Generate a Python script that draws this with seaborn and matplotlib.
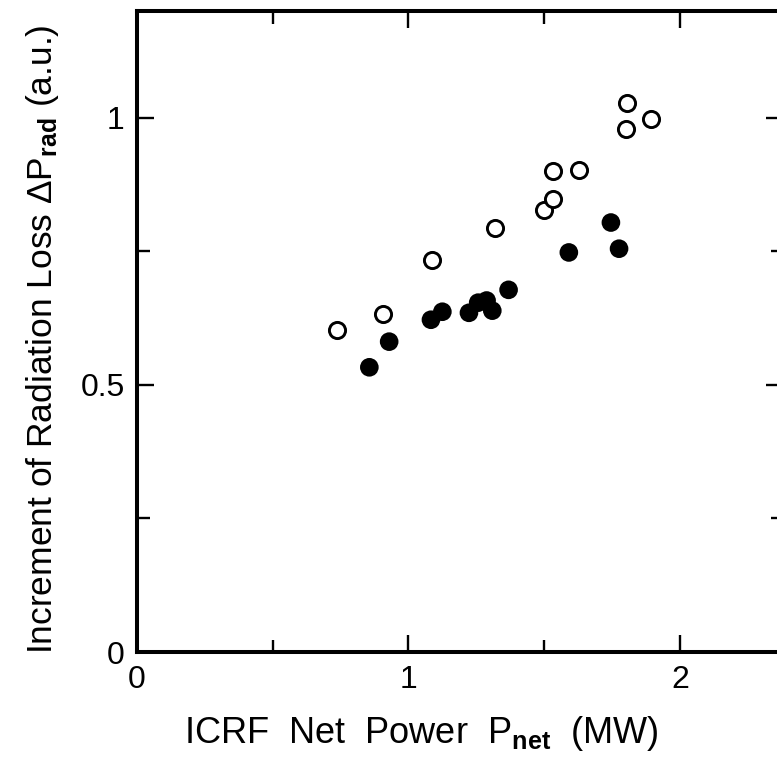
import matplotlib
matplotlib.use("Agg")
import matplotlib.pyplot as plt
import seaborn as sns
import pandas as pd
from matplotlib.ticker import FixedLocator

# Data
open_x = [0.735, 0.907, 1.085, 1.319, 1.500, 1.533, 1.533, 1.628, 1.800, 1.804, 1.892]
open_y = [0.603, 0.633, 0.734, 0.793, 0.828, 0.848, 0.901, 0.903, 0.979, 1.027, 0.998]
filled_x = [0.856, 0.929, 1.083, 1.125, 1.223, 1.257, 1.288, 1.309, 1.369, 1.591, 1.746, 1.776]
filled_y = [0.533, 0.581, 0.622, 0.637, 0.635, 0.654, 0.658, 0.639, 0.678, 0.748, 0.804, 0.755]
x_ticks = [0, 1, 2]
x_tick_labels = ["0", "1", "2"]
y_ticks = [0, 0.5, 1]
y_tick_labels = ["0", "0.5", "1"]

sns.set_style("ticks")
plt.rcParams["font.family"] = ["Liberation Sans", "DejaVu Sans"]
plt.rcParams["mathtext.fontset"] = "custom"
plt.rcParams["mathtext.rm"] = "Liberation Sans"
plt.rcParams["mathtext.bf"] = "Liberation Sans:bold"
plt.rcParams["mathtext.it"] = "Liberation Sans"
for k in ["text.color", "axes.labelcolor", "xtick.color", "ytick.color",
          "xtick.labelcolor", "ytick.labelcolor"]:
    plt.rcParams[k] = "black"

df_open = pd.DataFrame({"x": open_x, "y": open_y})
df_filled = pd.DataFrame({"x": filled_x, "y": filled_y})

fig = plt.figure(figsize=(7.77, 7.69), dpi=100)
ax = fig.add_axes([137 / 777, 117 / 769, 646 / 777, 641 / 769])

sns.scatterplot(data=df_open, x="x", y="y", ax=ax, s=135, marker="o",
                facecolor="white", edgecolor="black", linewidth=2.1, zorder=3)
sns.scatterplot(data=df_filled, x="x", y="y", ax=ax, s=180, marker="o",
                color="black", edgecolor="none", linewidth=0, zorder=4)

ax.set_xlim(0, 2.38)
ax.set_ylim(0, 1.2)

ax.xaxis.set_major_locator(FixedLocator(x_ticks))
ax.set_xticklabels(x_tick_labels)
ax.xaxis.set_minor_locator(FixedLocator([0.5, 1.5]))
ax.yaxis.set_major_locator(FixedLocator(y_ticks))
ax.set_yticklabels(y_tick_labels)
ax.yaxis.set_minor_locator(FixedLocator([0.25, 0.75]))

ax.tick_params(which="both", direction="in", top=True, right=True,
               width=1.7, color="black")
ax.tick_params(which="major", length=12.5, labelsize=23, pad=9)
ax.tick_params(which="minor", length=9)

for sp in ax.spines.values():
    sp.set_linewidth(2.9)
    sp.set_color("black")

ax.set_xlabel(r"ICRF  Net  Power  P$_{\mathbf{net}}$  (MW)", fontsize=26)
ax.xaxis.set_label_coords((421 - 137) / 646, -0.097)
ax.set_ylabel(r"Increment of Radiation Loss $\Delta$P$_{\mathbf{rad}}$ (a.u.)",
              fontsize=25.5)
ax.yaxis.set_label_coords(-0.118, 0.488)

fig.savefig("out.png", dpi=100, facecolor="white")
